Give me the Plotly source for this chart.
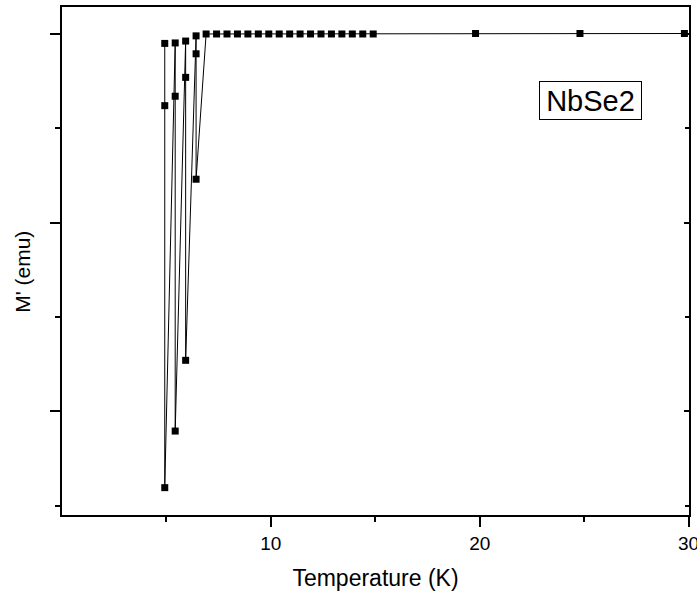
import plotly.graph_objects as go

# Temperature (K), in measurement order
temperature = [4.92, 4.92, 4.92, 5.42, 5.42, 5.42, 5.92, 5.92, 5.92, 6.42, 6.42, 6.42,
               6.9, 7.4, 7.9, 8.4, 8.9, 9.4, 9.9, 10.4, 10.9, 11.4, 11.9, 12.4, 12.9,
               13.4, 13.9, 14.4, 14.9, 19.8, 24.8, 29.8]
# M' (arbitrary emu scale, tick labels hidden in the original)
m_prime = [-0.10, -0.76, -4.81, -0.095, -0.66, -4.21, -0.075, -0.46, -3.46, -0.02, -0.21, -1.54,
           0.0, 0.0, 0.0, 0.0, 0.0, 0.0, 0.0, 0.0, 0.0, 0.0, 0.0, 0.0, 0.0,
           0.0, 0.0, 0.0, 0.0, 0.005, 0.005, 0.005]

x_tickvals = [10, 20, 30]
x_ticktext = ["10", "20", "30"]
sample_label = "NbSe2"
y_title = "M' (emu)"

FONT = "Liberation Sans, Arial, sans-serif"
Y_RANGE = [-5.10, 0.286]

fig = go.Figure()
fig.add_trace(go.Scatter(
    x=temperature, y=m_prime, mode="lines+markers",
    line=dict(color="black", width=1),
    marker=dict(symbol="square", size=7, color="black"),
    showlegend=False, cliponaxis=False,
))
# invisible companion trace so the right-hand axis (inward ticks) is drawn
fig.add_trace(go.Scatter(
    x=temperature, y=m_prime, yaxis="y2", mode="markers",
    marker=dict(opacity=0, size=1), hoverinfo="skip", showlegend=False,
))

fig.update_layout(
    width=697, height=596,
    margin=dict(l=62, r=8, t=7, b=81, autoexpand=False),
    paper_bgcolor="white", plot_bgcolor="white",
    font=dict(family=FONT, color="black"),
    xaxis=dict(
        range=[0, 30.02], tickvals=x_tickvals, ticktext=x_ticktext, automargin=False,
        showgrid=False, zeroline=False, ticklabeloverflow="allow",
        showline=True, linecolor="black", linewidth=2, mirror=True,
        ticks="outside", ticklen=10, tickwidth=2, tickcolor="black",
        tickfont=dict(size=19),
        minor=dict(tickvals=[5, 15, 25], ticks="outside", ticklen=5, tickwidth=1.5,
                   tickcolor="black", showgrid=False),
        title=dict(text="Temperature (K)", font=dict(size=23), standoff=17),
    ),
    yaxis=dict(
        range=Y_RANGE, tick0=0, dtick=2, automargin=False,
        showgrid=False, zeroline=False, showticklabels=False,
        showline=True, linecolor="black", linewidth=2,
        ticks="outside", ticklen=10, tickwidth=2, tickcolor="black",
        minor=dict(tick0=0, dtick=1, ticks="outside", ticklen=5, tickwidth=1.5,
                   tickcolor="black", showgrid=False),
    ),
    yaxis2=dict(
        range=Y_RANGE, tick0=0, dtick=2, overlaying="y", side="right", automargin=False,
        showgrid=False, zeroline=False, showticklabels=False,
        showline=True, linecolor="black", linewidth=2,
        ticks="inside", ticklen=5, tickwidth=1.5, tickcolor="black",
        minor=dict(tick0=0, dtick=1, ticks="inside", ticklen=4, tickwidth=1.5,
                   tickcolor="black", showgrid=False),
    ),
    annotations=[
        dict(
            text=sample_label, xref="paper", yref="paper", x=0.8436, y=0.815,
            xanchor="center", yanchor="middle", showarrow=False,
            font=dict(size=29, color="black"), width=99, height=35,
            bordercolor="black", borderwidth=1, borderpad=1, bgcolor="white",
        ),
        dict(
            text=y_title, xref="paper", yref="paper", x=-0.0643, y=0.478,
            xanchor="center", yanchor="middle", showarrow=False, textangle=-90,
            font=dict(size=21, color="black"),
        ),
    ],
)

fig.write_html(
    "out.html",
    config={"displayModeBar": False},
    post_script="document.body.style.margin='0';document.body.style.padding='0';",
)
